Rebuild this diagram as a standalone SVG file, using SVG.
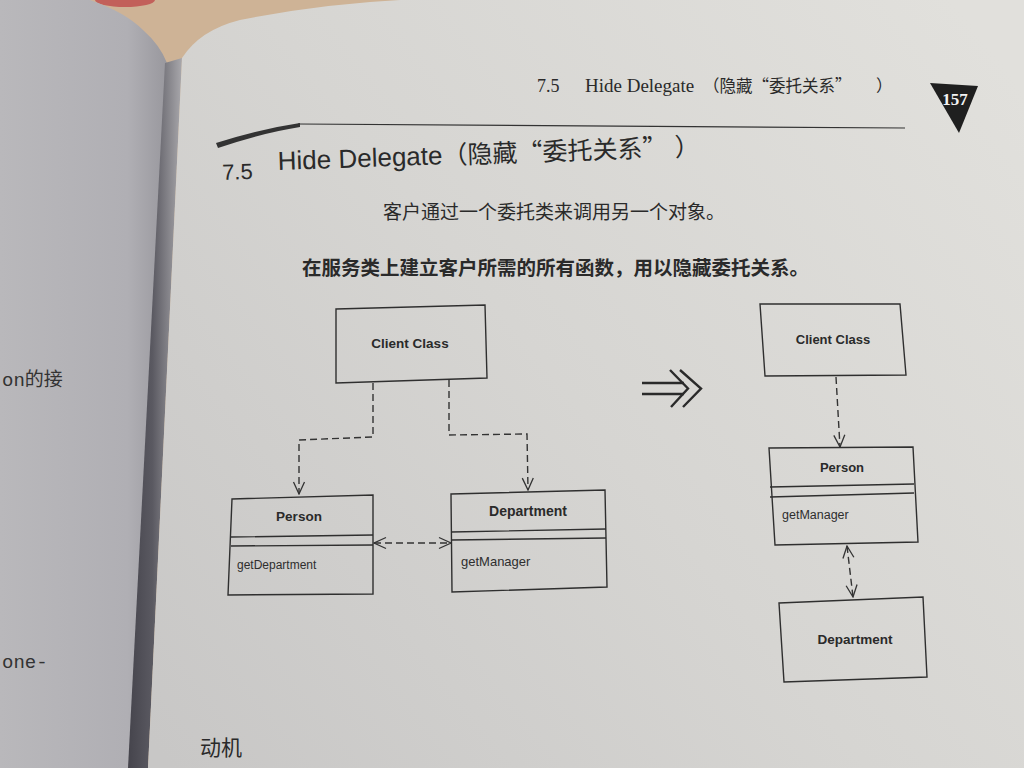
<svg xmlns="http://www.w3.org/2000/svg" width="1024" height="768" viewBox="0 0 1024 768">
<defs>
<linearGradient id="pageR" x1="150" y1="740" x2="1000" y2="60" gradientUnits="userSpaceOnUse">
<stop offset="0" stop-color="#c8c7c6"/>
<stop offset="0.5" stop-color="#d6d5d2"/>
<stop offset="1" stop-color="#e1e0dc"/>
</linearGradient>
<linearGradient id="pageL" x1="0" y1="0" x2="170" y2="0" gradientUnits="userSpaceOnUse">
<stop offset="0" stop-color="#b9b8bb"/>
<stop offset="0.75" stop-color="#b0afb4"/>
<stop offset="1" stop-color="#97969c"/>
</linearGradient>
<linearGradient id="gutter" x1="128" y1="0" x2="182" y2="0" gradientUnits="userSpaceOnUse">
<stop offset="0" stop-color="#45444c"/>
<stop offset="0.45" stop-color="#5a5961"/>
<stop offset="1" stop-color="#a9a8ac"/>
</linearGradient>
<marker id="open" viewBox="0 0 14 14" refX="13" refY="7" markerWidth="14" markerHeight="14" markerUnits="userSpaceOnUse" orient="auto-start-reverse">
<path d="M1,1.5 L13,7 L1,12.5" fill="none" stroke="#333" stroke-width="1.3"/>
</marker>
<style>
.box{fill:none;stroke:#2f2f2f;stroke-width:1.4}
.sep{fill:none;stroke:#2f2f2f;stroke-width:1.4}
.dep{fill:none;stroke:#333;stroke-width:1.4;stroke-dasharray:7 4}
.bn{font-family:"Liberation Sans",Arial,sans-serif;font-weight:bold;fill:#2a2a2a;text-anchor:middle}
.op{font-family:"Liberation Sans",Arial,sans-serif;fill:#2e2e2e}
.cjk{font-family:"Noto Sans CJK SC",sans-serif;fill:#2a2a2a}
.hdr{font-family:"Liberation Serif",serif;fill:#2a2a2a}
</style>
</defs>
<rect width="1024" height="768" fill="#ceb396"/>
<ellipse cx="125" cy="0" rx="30" ry="7" fill="#c2605a"/>
<path d="M0,0 L90,0 Q125,12 143,30 Q160,45 167,63 L130,768 L0,768 Z" fill="url(#pageL)"/>
<path d="M165,63 L182,58 L148,768 L128,768 Z" fill="url(#gutter)"/>
<path d="M182,58 Q200,30 240,20 Q320,4 400,0 L1024,0 L1024,768 L148,768 Z" fill="url(#pageR)"/>
<g id="leftpage-text">
<text x="2" y="386" font-family="'Liberation Mono','Noto Sans CJK SC',monospace" font-size="19" fill="#333">on的接</text>
<text x="2" y="668" font-family="'Liberation Mono',monospace" font-size="19" fill="#333">one-</text>
</g>
<g id="header">
<text class="hdr" x="537" y="92" font-size="18">7.5</text>
<text class="hdr" x="585" y="92" font-size="19">Hide Delegate</text>
<text class="cjk" x="703" y="92" font-size="16.5">（隐藏“委托关系”</text>
<text class="cjk" x="876" y="92" font-size="16.5">）</text>
<polygon points="930,83 978,86 959,133" fill="#1f1f1f"/>
<text x="955" y="105" font-family="'Liberation Serif',serif" font-weight="bold" font-size="17" fill="#f2f2f2" text-anchor="middle">157</text>
<line x1="298" y1="124" x2="905" y2="128" stroke="#333" stroke-width="1.2"/>
<path d="M216,143 Q260,129 300,123 L300,127 Q262,133 218,148 Z" fill="#333"/>
</g>
<g id="title" transform="rotate(-2 278 168)">
<text x="222" y="178" font-family="'Liberation Sans',sans-serif" font-size="22" fill="#2a2a2a">7.5</text>
<text x="278" y="170" font-family="'Liberation Sans',sans-serif" font-size="26" fill="#2a2a2a">Hide Delegate<tspan font-family="'Noto Sans CJK SC',sans-serif" font-size="25">（隐藏“委托关系”</tspan><tspan dx="20" font-family="'Noto Sans CJK SC',sans-serif" font-size="25">）</tspan></text>
</g>
<text class="cjk" x="383" y="219" font-size="19">客户通过一个委托类来调用另一个对象。</text>
<text class="cjk" x="302" y="275" font-size="19.5" font-weight="bold">在服务类上建立客户所需的所有函数，用以隐藏委托关系。</text>
<g id="connectors">
<path class="dep" d="M373,383 L373,437 L299,440 L299,494" marker-end="url(#open)"/>
<path class="dep" d="M449,380 L449,435 L527,434 L528,490" marker-end="url(#open)"/>
<path class="dep" d="M374,543 L451,543" marker-start="url(#open)" marker-end="url(#open)"/>
<path class="dep" d="M836,377 L840,447" marker-end="url(#open)"/>
<path class="dep" d="M847,546 L853,597" marker-start="url(#open)" marker-end="url(#open)"/>
</g>
<g id="left-client">
<path class="box" d="M336,309 L485,305 L487,378 L336,383 Z"/>
<text class="bn" x="410" y="348" font-size="13.5">Client Class</text>
</g>
<g id="left-person">
<path class="box" d="M232,499 L373,495 L373,594 L228,595 Z"/>
<path class="sep" d="M231,537 L373,535 M231,546 L373,545"/>
<text class="bn" x="299" y="521" font-size="13.5">Person</text>
<text class="op" x="237" y="569" font-size="12">getDepartment</text>
</g>
<g id="left-department">
<path class="box" d="M451,494 L605,490 L607,587 L452,592 Z"/>
<path class="sep" d="M451,532 L606,529 M451,540 L606,538"/>
<text class="bn" x="528" y="516" font-size="14">Department</text>
<text class="op" x="461" y="566" font-size="13">getManager</text>
</g>
<g id="arrow-refactor" fill="none" stroke="#2a2a2a" stroke-width="2.4">
<path d="M642,383 L684,383 M642,394 L684,394"/>
<path d="M670,370 L688,388.5 L671,407"/>
<path d="M680,370 L701,388.5 L683,407"/>
</g>
<g id="right-client">
<path class="box" d="M760,304 L900,304 L906,375 L765,376 Z"/>
<text class="bn" x="833" y="344" font-size="13">Client Class</text>
</g>
<g id="right-person">
<path class="box" d="M769,448 L913,447 L918,542 L775,545 Z"/>
<path class="sep" d="M770,487 L914,484 M770,497 L914,493"/>
<text class="bn" x="842" y="472" font-size="13">Person</text>
<text class="op" x="782" y="519" font-size="12.5">getManager</text>
</g>
<g id="right-department">
<path class="box" d="M779,603 L923,597 L927,677 L784,682 Z"/>
<text class="bn" x="855" y="644" font-size="13.5">Department</text>
</g>
<text class="cjk" x="200" y="755" font-size="21">动机</text>
</svg>
